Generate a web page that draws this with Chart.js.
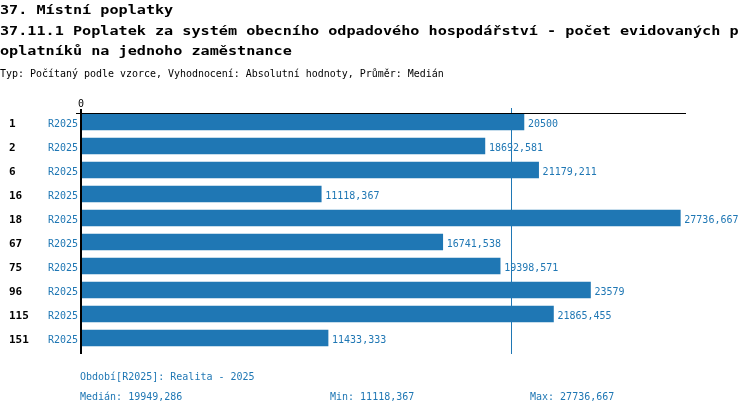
<!DOCTYPE html>
<html>
<head>
<meta charset="utf-8">
<script src="https://cdn.jsdelivr.net/npm/chart.js@4/dist/chart.umd.min.js"></script>
<style>
html, body { margin: 0; padding: 0; background: #ffffff; }
canvas { display: block; }
</style>
</head>
<body>
<canvas id="chart" width="750" height="414"></canvas>
<script>
const titleLines = [
    "37. Místní poplatky",
    "37.11.1 Poplatek za systém obecního odpadového hospodářství - počet evidovaných p",
    "oplatníků na jednoho zaměstnance"
];
const subtitle = "Typ: Počítaný podle vzorce, Vyhodnocení: Absolutní hodnoty, Průměr: Medián";

const categories = ["1", "2", "6", "16", "18", "67", "75", "96", "115", "151"];
const values = [20500, 18692.581, 21179.211, 11118.367, 27736.667, 16741.538, 19398.571, 23579, 21865.455, 11433.333];
const periodCode = "R2025";
const periodText = "Období[R2025]: Realita - 2025";
const medianValue = 19949.286;
const minValue = 11118.367;
const maxValue = 27736.667;
const xTicks = [0];

const blue = "#1f77b4";
const mono = "'DejaVu Sans Mono', 'Liberation Mono', monospace";

function fmt(v) {
    return String(v).replace(".", ",");
}

const overlay = {
    id: "overlay",
    afterDatasetsDraw(chart) {
        const ctx = chart.ctx;
        const xs = chart.scales.x;
        const ys = chart.scales.y;
        const area = chart.chartArea;
        const x0 = xs.getPixelForValue(0);

        ctx.save();

        // median line
        const xm = Math.round(xs.getPixelForValue(medianValue)) - 0.5;
        ctx.strokeStyle = blue;
        ctx.lineWidth = 1;
        ctx.beginPath();
        ctx.moveTo(xm, area.top - 2);
        ctx.lineTo(xm, area.bottom + 4);
        ctx.stroke();

        // top axis line
        ctx.strokeStyle = "#000000";
        ctx.beginPath();
        ctx.moveTo(x0 - 5, area.top + 3.5);
        ctx.lineTo(area.right, area.top + 3.5);
        ctx.stroke();

        // zero line
        ctx.lineWidth = 2;
        ctx.beginPath();
        ctx.moveTo(x0, area.top - 1);
        ctx.lineTo(x0, area.bottom + 4);
        ctx.stroke();

        // x tick labels
        ctx.fillStyle = "#000000";
        ctx.font = "10px " + mono;
        ctx.textAlign = "center";
        ctx.textBaseline = "alphabetic";
        xTicks.forEach(t => ctx.fillText(String(t), xs.getPixelForValue(t), area.top - 3));

        // category and period labels, value labels
        categories.forEach((c, i) => {
            const yp = ys.getPixelForValue(i);
            ctx.textBaseline = "alphabetic";
            ctx.fillStyle = "#000000";
            ctx.font = "bold 11px " + mono;
            ctx.textAlign = "left";
            ctx.fillText(c, 9, yp + 5);

            ctx.fillStyle = blue;
            ctx.font = "10px " + mono;
            ctx.textAlign = "right";
            ctx.fillText(periodCode, x0 - 3, yp + 5);

            ctx.textAlign = "left";
            ctx.fillText(fmt(values[i]), xs.getPixelForValue(values[i]) + 4, yp + 5);
        });

        // header
        ctx.fillStyle = "#000000";
        ctx.textAlign = "left";
        ctx.font = "bold 12px " + mono;
        const baselines = [13.5, 35, 55];
        titleLines.forEach((line, i) => {
            ctx.save();
            ctx.scale(1.262, 1);
            ctx.fillText(line, 0, baselines[i]);
            ctx.restore();
        });
        ctx.font = "10px " + mono;
        ctx.save();
        ctx.scale(0.996, 1);
        ctx.fillText(subtitle, 0, 77);
        ctx.restore();

        // footer
        ctx.fillStyle = blue;
        ctx.fillText(periodText, 80, 380);
        ctx.fillText("Medián: " + fmt(medianValue), 80, 400);
        ctx.fillText("Min: " + fmt(minValue), 330, 400);
        ctx.fillText("Max: " + fmt(maxValue), 530, 400);

        ctx.restore();
    }
};

new Chart(document.getElementById("chart"), {
    type: "bar",
    data: {
        labels: categories,
        datasets: [{
            label: periodCode,
            data: values,
            backgroundColor: blue,
            hoverBackgroundColor: blue,
            barThickness: 16,
            borderWidth: 0
        }]
    },
    options: {
        indexAxis: "y",
        responsive: false,
        animation: false,
        devicePixelRatio: 1,
        layout: {
            padding: { left: 81, right: 64, top: 110, bottom: 64 }
        },
        plugins: {
            legend: { display: false },
            tooltip: { enabled: false }
        },
        scales: {
            x: { display: false, min: 0, max: 28000 },
            y: { display: false }
        }
    },
    plugins: [overlay]
});
</script>
</body>
</html>
